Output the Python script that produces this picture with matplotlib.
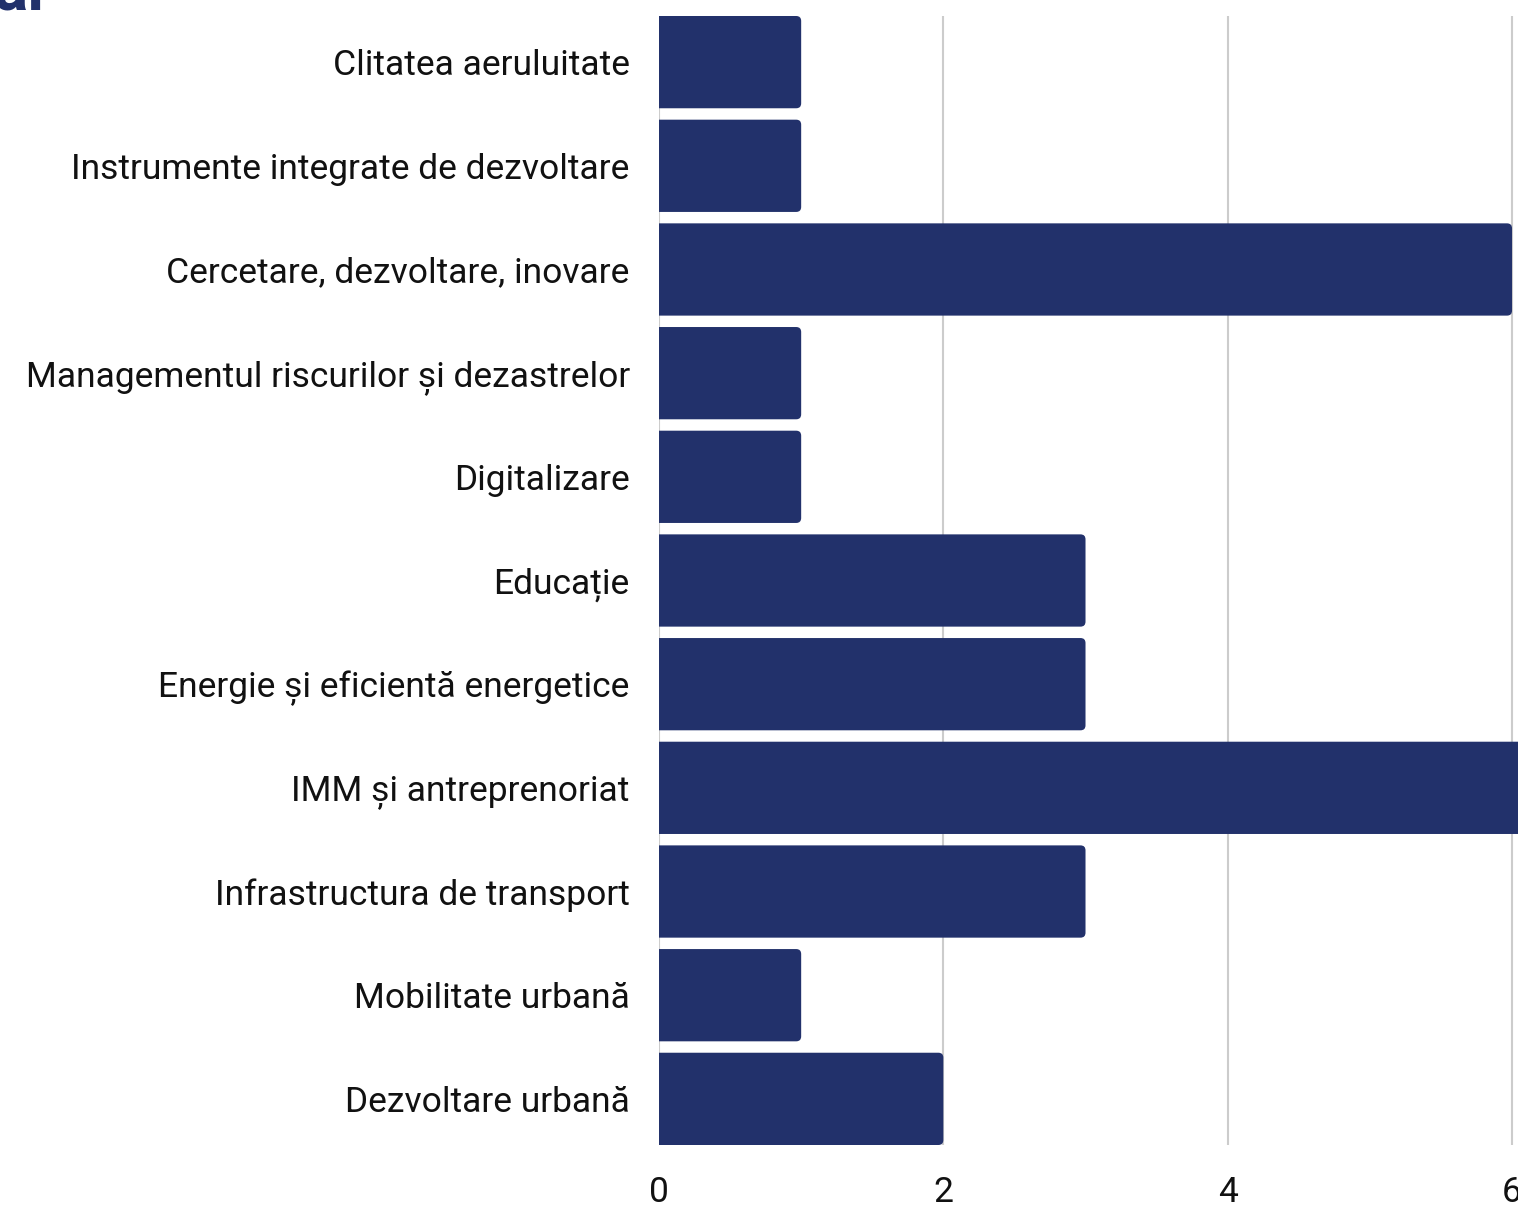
import matplotlib
matplotlib.use('Agg')
import matplotlib.pyplot as plt
from matplotlib.patches import FancyBboxPatch

categories = [
    'Clitatea aeruluitate',
    'Instrumente integrate de dezvoltare',
    'Cercetare, dezvoltare, inovare',
    'Managementul riscurilor și dezastrelor',
    'Digitalizare',
    'Educație',
    'Energie și eficientă energetice',
    'IMM și antreprenoriat',
    'Infrastructura de transport',
    'Mobilitate urbană',
    'Dezvoltare urbană',
]
values = [1, 1, 6, 1, 1, 3, 3, 7, 3, 1, 2]
xticks = [0, 2, 4, 6]

NAVY = '#22316B'
plt.rcParams['font.family'] = ['Roboto', 'DejaVu Sans']

W, H = 1518, 1209
fig = plt.figure(figsize=(W / 100, H / 100), dpi=100)

px_unit = 142.17
x_max = 6.5
left, top_px, bot_px = 659, 16, 1145
ax = fig.add_axes([left / W, 1 - bot_px / H, x_max * px_unit / W, (bot_px - top_px) / H])

n = len(categories)
bh = 0.89
gap = (1 - bh) / 2
ax.set_ylim(n - 0.5 - gap, -0.5 + gap)
ax.set_xlim(0, x_max)

# bars with slightly rounded right corners (left end hidden behind x=0)
slot_px = (bot_px - top_px) / (n - 2 * gap)
r = 5 / px_unit
aspect = px_unit / slot_px
for i, v in enumerate(values):
    p = FancyBboxPatch((-0.2, i - bh / 2), v + 0.2, bh,
                       boxstyle=f'round,pad=0,rounding_size={r}',
                       mutation_aspect=aspect, fc=NAVY, ec='none', zorder=3)
    ax.add_patch(p)

ax.set_yticks(range(n))
ax.set_yticklabels(categories, fontsize=25.5, color='#111111')
ax.set_xticks(xticks)
ax.set_xticklabels([str(t) for t in xticks], fontsize=25.5, color='#111111')
ax.tick_params(axis='y', length=0, pad=21)
ax.tick_params(axis='x', length=0, pad=22)
ax.grid(axis='x', color='#cccccc', linewidth=1.5, zorder=0)
ax.grid(axis='y', visible=False)
for s in ax.spines.values():
    s.set_visible(False)

# title fragment cut off at the top-left
fig.text(-0.004, 1 - 9 / H, 'al', fontsize=46, fontweight='bold', color=NAVY,
         va='baseline', ha='left')

fig.savefig('out.png', dpi=100)
